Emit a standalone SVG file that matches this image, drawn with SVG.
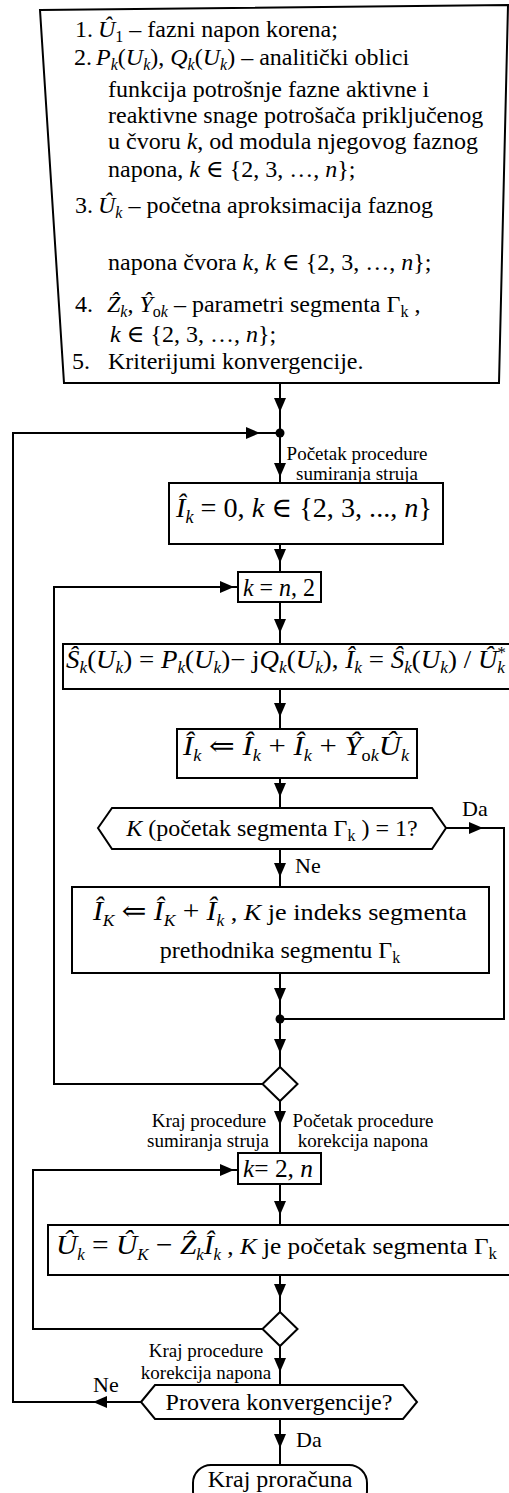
<svg xmlns="http://www.w3.org/2000/svg" xmlns:xlink="http://www.w3.org/1999/xlink" width="509" height="1493" viewBox="0 0 509 1493">
<style>
text{font-family:"Liberation Serif","Times New Roman","DejaVu Serif",serif;font-size:24px;fill:#000}
.i{font-style:italic}
.sb{font-size:16px}
.lb{font-size:19px}
.yn{font-size:22px}
.ln{fill:none;stroke:#000;stroke-width:2}
.bx{fill:#fff;stroke:#000;stroke-width:2}
.ah{fill:#000;stroke:none}
</style>
<defs>
<path id="ad" class="ah" d="M0,0 L-6,-14 L6,-14 Z"/>
<path id="ar" class="ah" d="M0,0 L-14,-6 L-14,6 Z"/>
<path id="al" class="ah" d="M0,0 L14,-6 L14,6 Z"/>
</defs>
<rect width="509" height="1493" fill="#fff"/>

<g id="connectors">
<path class="ln" d="M280,383 V483"/>
<path class="ln" d="M280,544 V572"/>
<path class="ln" d="M280,602 V644"/>
<path class="ln" d="M280,689 V729"/>
<path class="ln" d="M280,778 V808"/>
<path class="ln" d="M280,849 V887"/>
<path class="ln" d="M446,828 H504 V1019 H280"/>
<path class="ln" d="M280,973 V1067"/>
<path class="ln" d="M263,1084 H54 V587 H238"/>
<path class="ln" d="M280,1101 V1153"/>
<path class="ln" d="M280,1184 V1225"/>
<path class="ln" d="M280,1275 V1312"/>
<path class="ln" d="M263,1329 H33 V1170 H238"/>
<path class="ln" d="M280,1346 V1385"/>
<path class="ln" d="M141,1402 H13 V433 H280"/>
<path class="ln" d="M280,1419 V1465"/>
<circle cx="280" cy="433" r="4.5" fill="#000"/>
<circle cx="280" cy="1019" r="4.5" fill="#000"/>
<use xlink:href="#ad" x="280" y="412"/>
<use xlink:href="#ad" x="280" y="477"/>
<use xlink:href="#ad" x="280" y="563"/>
<use xlink:href="#ad" x="280" y="633"/>
<use xlink:href="#ad" x="280" y="717"/>
<use xlink:href="#ad" x="280" y="797"/>
<use xlink:href="#ad" x="280" y="877"/>
<use xlink:href="#ad" x="280" y="1002"/>
<use xlink:href="#ad" x="280" y="1053"/>
<use xlink:href="#ad" x="280" y="1125"/>
<use xlink:href="#ad" x="280" y="1215"/>
<use xlink:href="#ad" x="280" y="1298"/>
<use xlink:href="#ad" x="280" y="1372"/>
<use xlink:href="#ad" x="280" y="1448"/>
<use xlink:href="#ar" x="260" y="433"/>
<use xlink:href="#ar" x="234" y="587"/>
<use xlink:href="#ar" x="483" y="828"/>
<use xlink:href="#ar" x="234" y="1170"/>
<use xlink:href="#al" x="93" y="1402"/>
<text class="lb" x="357" y="460" text-anchor="middle">Početak procedure</text>
<text class="lb" x="357" y="480" text-anchor="middle">sumiranja struja</text>
<text class="yn" x="462" y="816">Da</text>
<text class="yn" x="295" y="873">Ne</text>
<text class="lb" x="209" y="1127" text-anchor="middle">Kraj procedure</text>
<text class="lb" x="208" y="1147" text-anchor="middle">sumiranja struja</text>
<text class="lb" x="363" y="1127" text-anchor="middle">Početak procedure</text>
<text class="lb" x="363" y="1147" text-anchor="middle">korekcija napona</text>
<text class="lb" x="206" y="1357" text-anchor="middle">Kraj procedure</text>
<text class="lb" x="206" y="1379" text-anchor="middle">korekcija napona</text>
<text class="yn" x="93" y="1392">Ne</text>
<text class="yn" x="296" y="1447">Da</text>
</g>

<g id="input">
<polygon class="bx" points="40,10 508,5 499,383 64,383"/>
<text x="75" y="37">1.</text>
<text x="98" y="37"><tspan class="i">Û</tspan><tspan class="sb" dy="5">1</tspan><tspan dy="-5"> – fazni napon korena;</tspan></text>
<text x="74" y="65">2.</text>
<text x="96" y="65"><tspan class="i">P</tspan><tspan class="sb i" dy="5">k</tspan><tspan dy="-5">(</tspan><tspan class="i">U</tspan><tspan class="sb i" dy="5">k</tspan><tspan dy="-5">), </tspan><tspan class="i">Q</tspan><tspan class="sb i" dy="5">k</tspan><tspan dy="-5">(</tspan><tspan class="i">U</tspan><tspan class="sb i" dy="5">k</tspan><tspan dy="-5">) – analitički oblici</tspan></text>
<text x="108" y="97">funkcija potrošnje fazne aktivne i</text>
<text x="108" y="123">reaktivne snage potrošača priključenog</text>
<text x="108" y="149">u čvoru <tspan class="i">k</tspan>, od modula njegovog faznog</text>
<text x="108" y="177">napona,  <tspan class="i">k</tspan> ∈ {2, 3, …, <tspan class="i">n</tspan>};</text>
<text x="75" y="213">3.</text>
<text x="98" y="213"><tspan class="i">Û</tspan><tspan class="sb i" dy="5">k</tspan><tspan dy="-5"> – početna aproksimacija faznog</tspan></text>
<text x="108" y="270">napona čvora <tspan class="i">k</tspan>,  <tspan class="i">k</tspan> ∈ {2, 3, …, <tspan class="i">n</tspan>};</text>
<text x="75" y="312">4.</text>
<text x="107" y="312"><tspan class="i">Ẑ</tspan><tspan class="sb i" dy="5">k</tspan><tspan dy="-5">,  </tspan><tspan class="i">Ŷ</tspan><tspan class="sb" dy="5">o</tspan><tspan class="sb i">k</tspan><tspan dy="-5"> – parametri segmenta  Γ</tspan><tspan class="sb" dy="5">k</tspan><tspan dy="-5"> ,</tspan></text>
<text x="110" y="342"><tspan class="i">k</tspan> ∈ {2, 3, …, <tspan class="i">n</tspan>};</text>
<text x="72" y="369">5.</text>
<text x="108" y="369">Kriterijumi konvergencije.</text>
</g>

<g id="init">
<rect class="bx" x="169" y="483" width="274" height="61"/>
<text x="176" y="517" style="font-size:28px" textLength="256" lengthAdjust="spacingAndGlyphs"><tspan class="i">Î</tspan><tspan class="i" style="font-size:18px" dy="6">k</tspan><tspan dy="-6"> = 0,  </tspan><tspan class="i">k</tspan> ∈ {2, 3, ..., <tspan class="i">n</tspan>}</text>
</g>

<g id="loop1">
<rect class="bx" x="238" y="572" width="83" height="30"/>
<text x="243" y="596" style="font-size:26px" textLength="72" lengthAdjust="spacingAndGlyphs"><tspan class="i">k</tspan> = <tspan class="i">n</tspan>, 2</text>
</g>

<g id="power">
<rect class="bx" x="63" y="644" width="460" height="45"/>
<text x="66" y="668" style="font-size:25px" textLength="440" lengthAdjust="spacingAndGlyphs"><tspan class="i">Ŝ</tspan><tspan class="sb i" dy="5">k</tspan><tspan dy="-5">(</tspan><tspan class="i">U</tspan><tspan class="sb i" dy="5">k</tspan><tspan dy="-5">) = </tspan><tspan class="i">P</tspan><tspan class="sb i" dy="5">k</tspan><tspan dy="-5">(</tspan><tspan class="i">U</tspan><tspan class="sb i" dy="5">k</tspan><tspan dy="-5">)− j</tspan><tspan class="i">Q</tspan><tspan class="sb i" dy="5">k</tspan><tspan dy="-5">(</tspan><tspan class="i">U</tspan><tspan class="sb i" dy="5">k</tspan><tspan dy="-5">), </tspan><tspan class="i">Î</tspan><tspan class="sb i" dy="5">k</tspan><tspan dy="-5"> = </tspan><tspan class="i">Ŝ</tspan><tspan class="sb i" dy="5">k</tspan><tspan dy="-5">(</tspan><tspan class="i">U</tspan><tspan class="sb i" dy="5">k</tspan><tspan dy="-5">) / </tspan><tspan class="i">Û</tspan><tspan class="sb" dy="-10">*</tspan><tspan class="sb i" dx="-8" dy="15">k</tspan></text>
</g>

<g id="current">
<rect class="bx" x="177" y="729" width="240" height="49"/>
<text x="183" y="755" style="font-size:27px" textLength="226" lengthAdjust="spacingAndGlyphs"><tspan class="i">Î</tspan><tspan class="sb i" dy="6">k</tspan><tspan dy="-6"> ⇐ </tspan><tspan class="i">Î</tspan><tspan class="sb i" dy="6">k</tspan><tspan dy="-6"> + </tspan><tspan class="i">Î</tspan><tspan class="sb i" dy="6">k</tspan><tspan dy="-6"> + </tspan><tspan class="i">Ŷ</tspan><tspan class="sb" dy="6">o</tspan><tspan class="sb i">k</tspan><tspan class="i" dy="-6">Û</tspan><tspan class="sb i" dy="6">k</tspan></text>
</g>

<g id="check1">
<polygon class="bx" points="98,828 112,808 432,808 446,828 432,849 112,849"/>
<text x="272" y="836" text-anchor="middle"><tspan class="i">K</tspan> (početak segmenta  Γ<tspan class="sb" dy="5">k</tspan><tspan dy="-5"> ) = 1?</tspan></text>
</g>

<g id="accumulate">
<rect class="bx" x="72" y="887" width="417" height="86"/>
<text x="280" y="920" text-anchor="middle" textLength="374" lengthAdjust="spacingAndGlyphs"><tspan class="i" style="font-size:27px">Î</tspan><tspan class="sb i" dy="6">K</tspan><tspan dy="-6" style="font-size:27px"> ⇐ </tspan><tspan class="i" style="font-size:27px">Î</tspan><tspan class="sb i" dy="6">K</tspan><tspan dy="-6" style="font-size:27px"> + </tspan><tspan class="i" style="font-size:27px">Î</tspan><tspan class="sb i" dy="6">k</tspan><tspan dy="-6"> , </tspan><tspan class="i">K</tspan> je indeks segmenta</text>
<text x="280" y="958" text-anchor="middle">prethodnika segmentu  Γ<tspan class="sb" dy="5">k</tspan></text>
</g>

<g id="loopend1">
<polygon class="bx" points="280,1067 297.5,1084 280,1101 262.5,1084"/>
</g>

<g id="loop2">
<rect class="bx" x="238" y="1153" width="83" height="31"/>
<text x="243" y="1177" style="font-size:26px" textLength="70" lengthAdjust="spacingAndGlyphs"><tspan class="i">k</tspan>= 2, <tspan class="i">n</tspan></text>
</g>

<g id="voltage">
<rect class="bx" x="48" y="1225" width="475" height="50"/>
<text x="56" y="1254" textLength="441" lengthAdjust="spacingAndGlyphs"><tspan class="i" style="font-size:28px">Û</tspan><tspan class="sb i" dy="6">k</tspan><tspan dy="-6" style="font-size:28px"> = </tspan><tspan class="i" style="font-size:28px">Û</tspan><tspan class="sb i" dy="6">K</tspan><tspan dy="-6" style="font-size:28px"> − </tspan><tspan class="i" style="font-size:28px">Ẑ</tspan><tspan class="sb i" dy="6">k</tspan><tspan class="i" dy="-6" style="font-size:28px">Î</tspan><tspan class="sb i" dy="6">k</tspan><tspan dy="-6"> , </tspan><tspan class="i">K</tspan> je početak segmenta Γ<tspan class="sb" dy="5">k</tspan></text>
</g>

<g id="loopend2">
<polygon class="bx" points="280,1312 297.5,1329 280,1346 262.5,1329"/>
</g>

<g id="convergence">
<polygon class="bx" points="141,1402 155,1385 403,1385 417,1402 403,1419 155,1419"/>
<text x="279" y="1410" text-anchor="middle">Provera konvergencije?</text>
</g>

<g id="end">
<rect class="bx" x="193" y="1465" width="174" height="44" rx="18" ry="18"/>
<text x="280" y="1487" text-anchor="middle">Kraj proračuna</text>
</g>
</svg>
